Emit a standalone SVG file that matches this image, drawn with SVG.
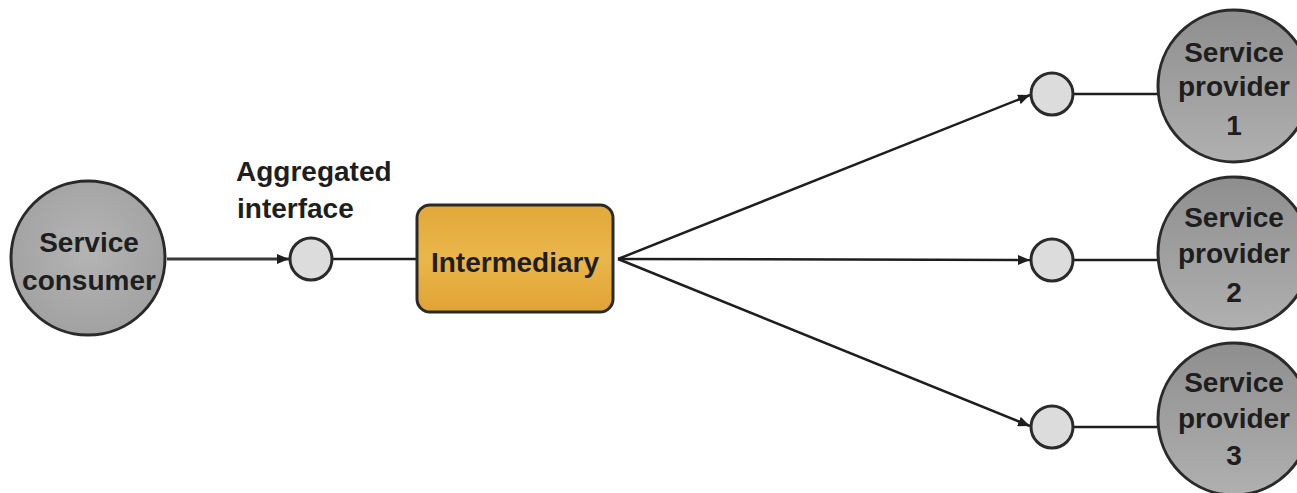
<svg xmlns="http://www.w3.org/2000/svg" width="1297" height="493" viewBox="0 0 1297 493">
<defs>
<style>
.t{font-family:"Liberation Sans",Arial,sans-serif;font-weight:bold;font-size:28px;fill:#1e1e1e}
.c{text-anchor:middle}
.big{stroke:#2a2a2a;stroke-width:3}
.port{fill:#dcdcdc;stroke:#2a2a2a;stroke-width:3}
.ln{stroke:#1e1e1e;stroke-width:2.5;fill:none}
</style>
<radialGradient id="gc" cx="0.5" cy="0.45" r="0.6">
<stop offset="0" stop-color="#b4b4b4"/><stop offset="1" stop-color="#a0a0a0"/>
</radialGradient>
<linearGradient id="gp" x1="0" y1="0" x2="0" y2="1">
<stop offset="0" stop-color="#8e8e8e"/><stop offset="1" stop-color="#b0b0b0"/>
</linearGradient>
<linearGradient id="gi" x1="0" y1="0" x2="0" y2="1">
<stop offset="0" stop-color="#e2a83a"/><stop offset="0.5" stop-color="#eab64a"/><stop offset="1" stop-color="#e0a335"/>
</linearGradient>
<marker id="ah" viewBox="0 0 12 10" refX="12" refY="5" markerWidth="12" markerHeight="10" markerUnits="userSpaceOnUse" orient="auto">
<path d="M0,0 L12,5 L0,10 z" fill="#1e1e1e"/>
</marker>
</defs>
<g id="connectors">
<line class="ln" x1="167" y1="259" x2="289" y2="259" stroke="#444" style="stroke:#3a3a3a;stroke-width:3" marker-end="url(#ah)"/>
<line class="ln" x1="333" y1="259" x2="418" y2="259"/>
<line class="ln" x1="618" y1="259" x2="1030" y2="95" marker-end="url(#ah)"/>
<line class="ln" x1="618" y1="259" x2="1030" y2="260" marker-end="url(#ah)"/>
<line class="ln" x1="618" y1="259" x2="1030" y2="426" marker-end="url(#ah)"/>
<line class="ln" x1="1073" y1="94" x2="1158" y2="94"/>
<line class="ln" x1="1073" y1="260" x2="1158" y2="260"/>
<line class="ln" x1="1073" y1="427" x2="1158" y2="427"/>
</g>
<g id="consumer">
<circle class="big" cx="88" cy="258" r="77" fill="url(#gc)"/>
<text class="t c" x="89" y="252">Service</text>
<text class="t c" x="89" y="290">consumer</text>
</g>
<g id="aggregated-interface">
<circle class="port" cx="311" cy="259" r="21"/>
<text class="t" x="236" y="181">Aggregated</text>
<text class="t" x="237" y="218">interface</text>
</g>
<g id="intermediary">
<rect x="417" y="205" width="196" height="107" rx="13" fill="url(#gi)" stroke="#2a2a2a" stroke-width="3"/>
<text class="t c" x="515" y="272">Intermediary</text>
</g>
<g id="port1"><circle class="port" cx="1052" cy="94" r="21"/></g>
<g id="port2"><circle class="port" cx="1052" cy="260" r="21"/></g>
<g id="port3"><circle class="port" cx="1052" cy="427" r="21"/></g>
<g id="provider1">
<circle class="big" cx="1234" cy="86" r="76" fill="url(#gp)"/>
<text class="t c" x="1234" y="62">Service</text>
<text class="t c" x="1234" y="96">provider</text>
<text class="t c" x="1234" y="135">1</text>
</g>
<g id="provider2">
<circle class="big" cx="1234" cy="253" r="76" fill="url(#gp)"/>
<text class="t c" x="1234" y="227">Service</text>
<text class="t c" x="1234" y="263">provider</text>
<text class="t c" x="1234" y="302">2</text>
</g>
<g id="provider3">
<circle class="big" cx="1234" cy="419" r="76" fill="url(#gp)"/>
<text class="t c" x="1234" y="392">Service</text>
<text class="t c" x="1234" y="428">provider</text>
<text class="t c" x="1234" y="465">3</text>
</g>
</svg>
